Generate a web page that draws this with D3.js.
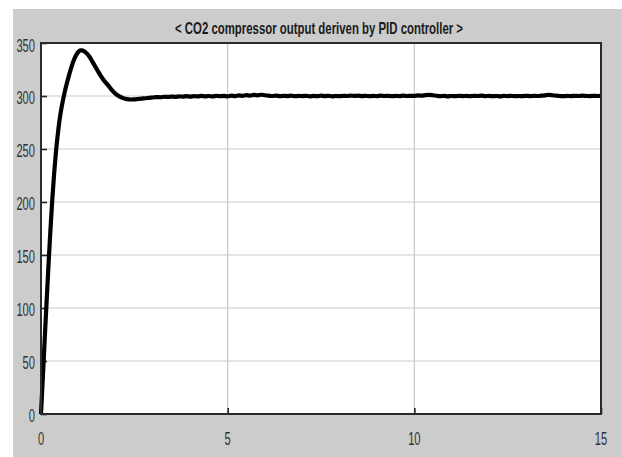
<!DOCTYPE html>
<html>
<head>
<meta charset="utf-8">
<script src="https://cdn.jsdelivr.net/npm/d3@7"></script>
<style>
  html, body { margin: 0; padding: 0; background: #ffffff; }
  svg { display: block; }
  text { font-family: "Liberation Sans", Arial, sans-serif; fill: #333333; }
</style>
</head>
<body>
<svg id="chart" width="622" height="457"></svg>
<script>
// Scope trace: CO2 compressor output under PID control
const chartTitle = "< CO2 compressor output deriven by PID controller >";

const xTicks = [0, 5, 10, 15];
const yTicks = [0, 50, 100, 150, 200, 250, 300, 350];

// Start-up transient (time in s, output)
const transientTime = [0, 0.05, 0.1, 0.15, 0.2, 0.25, 0.3, 0.35, 0.4, 0.45, 0.5, 0.55, 0.6, 0.65, 0.7, 0.75,
  0.8, 0.85, 0.9, 0.95, 1.0, 1.05, 1.1, 1.15, 1.2, 1.3, 1.4, 1.5, 1.6, 1.7, 1.8, 1.9, 2.0, 2.1, 2.2, 2.3,
  2.4, 2.5, 2.6, 2.7, 2.8, 2.9];
const transientValue = [0, 35, 71, 106, 140, 172, 201, 226, 247, 264, 278, 289, 298, 306, 313, 319.5,
  325.5, 331, 335.5, 339, 341.5, 343, 343, 342.3, 341, 337, 331, 325, 319, 314, 310, 305.5, 302, 299.6, 298, 297,
  296.7, 296.8, 297.2, 297.6, 297.9, 298.3];

// Steady-state samples, every 0.1 s from 3.0 s to 15.0 s
const steadyStart = 3.0;
const steadyStep = 0.1;
const steadyValue = [
  298.6, 299.0, 298.8, 299.3, 299.1, 299.5, 299.2, 299.6, 299.4, 299.8,
  299.5, 299.9, 299.6, 300.1, 299.7, 300.0, 299.6, 300.2, 299.8, 300.1,
  299.7, 300.3, 299.9, 300.5, 300.2, 300.8, 300.4, 301.0, 300.6, 301.2,
  300.7, 300.3, 300.0, 300.4, 299.8, 300.2, 299.9, 300.3, 299.8, 300.1,
  299.9, 300.2, 299.7, 300.1, 299.8, 300.3, 299.9, 300.2, 299.7, 300.0,
  299.8, 300.2, 300.0, 300.4, 300.1, 300.3, 299.9, 300.2, 299.8, 300.1,
  299.9, 300.3, 300.0, 300.2, 299.8, 300.1, 299.9, 300.3, 300.0, 300.2,
  300.1, 300.5, 300.3, 300.8, 301.1, 300.7, 300.2, 299.9, 300.1, 299.7,
  300.0, 299.8, 300.2, 299.9, 300.1, 299.8, 300.2, 300.0, 300.3, 299.9,
  300.1, 299.8, 300.0, 299.7, 300.1, 299.9, 300.2, 299.8, 300.0, 299.9,
  300.2, 299.9, 300.1, 300.0, 300.3, 300.6, 301.0, 300.7, 300.3, 300.0,
  299.8, 300.1, 299.9, 300.2, 300.0, 300.3, 300.1, 299.9, 300.2, 300.0, 300.1
];

const series = transientTime.map((t, i) => ({ t, v: transientValue[i] }))
  .concat(steadyValue.map((v, i) => ({ t: +(steadyStart + i * steadyStep).toFixed(2), v })));

const svg = d3.select("#chart");
const W = 622, H = 457;
const plot = { left: 41, right: 601, top: 43, bottom: 414 };

// Figure window background
svg.append("rect").attr("x", 13).attr("y", 9).attr("width", W - 13).attr("height", H - 9).attr("fill", "#cccccc");

const x = d3.scaleLinear().domain([0, 15]).range([plot.left, plot.right]);
const y = d3.scaleLinear().domain([0, 350]).range([plot.bottom, plot.top]);

// Axes area
svg.append("rect")
  .attr("x", plot.left).attr("y", plot.top)
  .attr("width", plot.right - plot.left).attr("height", plot.bottom - plot.top)
  .attr("fill", "#ffffff");

// Grid
const grid = svg.append("g").attr("stroke", "#c9c9c9").attr("stroke-width", 1.2);
grid.selectAll("line.gx").data(xTicks.filter(d => d > 0 && d < 15)).enter().append("line")
  .attr("x1", d => x(d)).attr("x2", d => x(d)).attr("y1", plot.top).attr("y2", plot.bottom);
grid.selectAll("line.gy").data(yTicks.filter(d => d > 0 && d < 350)).enter().append("line")
  .attr("y1", d => y(d)).attr("y2", d => y(d)).attr("x1", plot.left).attr("x2", plot.right);

// Inward ticks
const yAxis = d3.axisLeft(y).tickValues(yTicks).tickSize(-6).tickFormat("");
const xAxis = d3.axisBottom(x).tickValues(xTicks).tickSize(-6).tickFormat("");
const ga = svg.append("g").attr("transform", `translate(${plot.left},0)`).call(yAxis);
const gb = svg.append("g").attr("transform", `translate(0,${plot.bottom})`).call(xAxis);
[ga, gb].forEach(g => {
  g.select(".domain").remove();
  g.selectAll(".tick line").attr("stroke", "#222").attr("stroke-width", 1.6);
});

// Trace
const line = d3.line().x(d => x(d.t)).y(d => y(d.v)).curve(d3.curveMonotoneX);
svg.append("path").datum(series)
  .attr("d", line)
  .attr("fill", "none")
  .attr("stroke", "#000")
  .attr("stroke-width", 4.2)
  .attr("stroke-linejoin", "round");

// Axes box
svg.append("rect")
  .attr("x", plot.left).attr("y", plot.top)
  .attr("width", plot.right - plot.left).attr("height", plot.bottom - plot.top)
  .attr("fill", "none").attr("stroke", "#2a2a2a").attr("stroke-width", 2);

// Tick labels (condensed)
const labelSize = 17.5;
const yLab = svg.append("g");
yTicks.forEach(v => {
  const cy = y(v) + (v === 350 ? 3 : 1.6);
  const txt = String(v);
  yLab.append("text")
    .attr("x", 35).attr("y", cy + 6.2)
    .attr("text-anchor", "end")
    .attr("font-size", labelSize)
    .attr("textLength", txt.length * 6.2)
    .attr("lengthAdjust", "spacingAndGlyphs")
    .text(txt);
});
const xLab = svg.append("g");
xTicks.forEach(t => {
  const txt = String(t);
  xLab.append("text")
    .attr("x", x(t)).attr("y", 444.5)
    .attr("text-anchor", "middle")
    .attr("font-size", labelSize)
    .attr("textLength", txt.length * 6.2)
    .attr("lengthAdjust", "spacingAndGlyphs")
    .text(txt);
});

// Title
svg.append("text")
  .attr("x", 319).attr("y", 34)
  .attr("text-anchor", "middle")
  .attr("font-size", 17)
  .attr("font-weight", "bold")
  .attr("textLength", 288)
  .attr("lengthAdjust", "spacingAndGlyphs")
  .style("fill", "#1a1a1a")
  .text(chartTitle);
</script>
</body>
</html>
